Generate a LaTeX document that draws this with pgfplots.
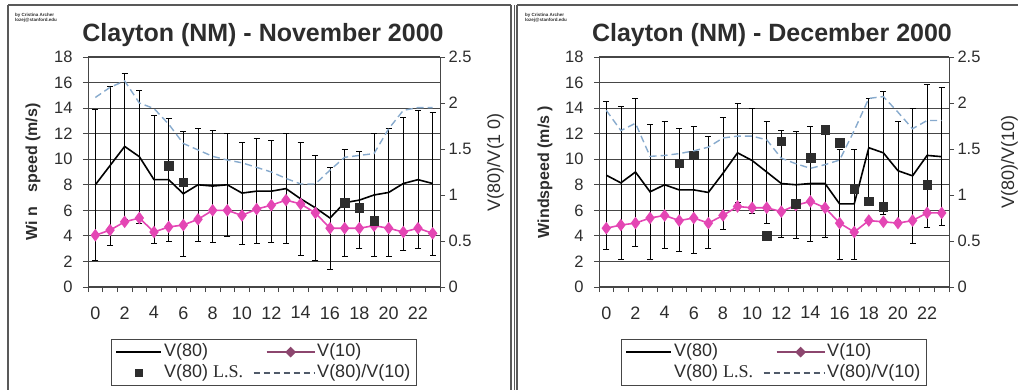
\documentclass[border=0pt]{standalone}
\usepackage{pgfplots}
\pgfplotsset{compat=1.18}
\usepackage{pgfplotstable}
\usepackage{fontspec}
\setmainfont{Liberation Sans}
\newfontfamily\lsfont{Liberation Serif}
\definecolor{pinkc}{RGB}{228,70,180}
\definecolor{v10leg}{RGB}{140,70,110}
\definecolor{lsc}{RGB}{45,45,45}
\definecolor{ratioc}{RGB}{135,170,205}
\definecolor{ratioleg}{RGB}{80,90,105}
\definecolor{gridc}{RGB}{70,70,70}
\definecolor{txtc}{RGB}{45,45,45}

\pgfplotstableread{
h v80 err v10 ratio
0 8.0 5.9 4.05 2.06
1 9.5 6.2 4.45 2.17
2 11.0 5.7 5.1 2.24
3 10.2 5.2 5.4 2.0
4 8.4 5.0 4.3 1.94
5 8.4 4.8 4.7 1.77
6 7.3 4.9 4.85 1.56
7 8.0 4.4 5.3 1.49
8 7.9 4.4 6.0 1.42
9 8.0 4.0 6.0 1.38
10 7.35 4.0 5.6 1.35
11 7.5 4.1 6.1 1.3
12 7.5 4.0 6.4 1.25
13 7.7 4.3 6.8 1.18
14 6.9 4.4 6.5 1.12
15 6.2 4.1 5.8 1.12
16 5.4 4.0 4.6 1.27
17 6.6 4.2 4.6 1.41
18 6.8 3.8 4.6 1.43
19 7.2 4.8 4.8 1.45
20 7.4 5.0 4.6 1.72
21 8.1 5.2 4.3 1.92
22 8.4 5.4 4.6 1.95
23 8.1 5.6 4.2 1.95
}\nov

\pgfplotstableread{
h v80 err v10 ratio
0 8.75 5.8 4.6 1.92
1 8.15 6.0 4.85 1.7
2 9.0 5.8 5.0 1.78
3 7.45 5.3 5.4 1.42
4 8.0 5.0 5.6 1.43
5 7.6 4.8 5.2 1.45
6 7.6 5.0 5.4 1.48
7 7.4 4.4 5.0 1.52
8 8.9 4.4 5.6 1.62
9 10.5 3.9 6.3 1.64
10 9.9 4.1 6.2 1.64
11 9.0 4.0 6.2 1.6
12 8.1 4.2 5.9 1.4
13 8.0 4.2 6.4 1.34
14 8.1 4.5 6.7 1.29
15 8.1 4.2 6.2 1.33
16 6.5 4.3 5.0 1.38
17 6.5 4.3 4.3 1.7
18 10.9 3.9 5.2 2.05
19 10.5 4.8 5.1 2.07
20 9.1 3.9 5.0 1.9
21 8.7 5.3 5.2 1.72
22 10.3 5.6 5.8 1.81
23 10.2 5.4 5.8 1.81
}\dec

\pgfplotsset{
  common/.style={
    scale only axis, height=230pt, xmin=-0.5, xmax=23.5,
    /pgf/number format/assume math mode=true,
    axis line style={gridc, line width=1pt},
    tick style={gridc, line width=0.8pt},
    major tick length=5pt,
  },
  leftax/.style={
    common,
    ymin=0, ymax=18, ytick={0,2,...,18},
    xtick={-0.5,0.5,1.5,2.5,3.5,4.5,5.5,6.5,7.5,8.5,9.5,10.5,11.5,12.5,13.5,14.5,15.5,16.5,17.5,18.5,19.5,20.5,21.5,22.5,23.5},
    xticklabels={0,,2,,4,,6,,8,,10,,12,,14,,16,,18,,20,,22,,},
    xticklabel style={xshift=7.3pt, yshift=-11pt, font=\fontsize{18}{20}\selectfont, text=txtc},
    yticklabel style={font=\fontsize{16.5}{18}\selectfont, text=txtc, xshift=-7pt},
    tick align=outside, xtick pos=bottom, ytick pos=left,
    ymajorgrids, grid style={gridc, line width=1.1pt},
    legend columns=2, legend cell align=left,
    legend style={at={(0.5,-0.226)}, anchor=north, draw=gridc, line width=1.2pt,
      font=\fontsize{18}{20}\selectfont, text=txtc, inner xsep=4pt, inner ysep=2pt,
      /tikz/every even column/.append style={column sep=8pt},
      nodes={inner sep=2pt, text height=13pt, text depth=4pt}},
  },
  rightax/.style={
    common,
    axis x line=none, axis y line*=right,
    ymin=0, ymax=2.5, ytick={0,0.5,...,2.5},
    tick align=outside,
    yticklabel style={font=\fontsize{16.5}{18}\selectfont, text=txtc},
  },
}

\begin{document}
\begin{tikzpicture}[x=1pt,y=1pt]
\useasboundingbox (0,0) rectangle (1018,389);
% frames
\draw[gray!70!black, line width=1.2pt] (8,384) -- (511,384);
\draw[gray!70!black, line width=1.2pt] (8,384) -- (8,-5);
\draw[gray!70!black, line width=1.2pt] (511,384) -- (511,-5);
\draw[gray!70!black, line width=1.2pt] (517,384) -- (1030,384);
\draw[gray!70!black, line width=1.2pt] (517,384) -- (517,-5);
\draw[gray!70!black, line width=0.8pt] (514,384) -- (514,-5);

% ===== November =====
\node[anchor=north west, font=\fontsize{4.5}{5.5}\selectfont\bfseries, text=txtc, align=left, inner sep=0pt] at (15,376) {by Cristina Archer\\lozej@stanford.edu};
\node[anchor=base, font=\fontsize{25}{28}\selectfont\bfseries, text=txtc] at (263,347) {Clayton (NM) - November 2000};
\node[anchor=base, rotate=90, font=\fontsize{16}{18}\selectfont\bfseries, text=txtc] at (37,217) {Wi n\hspace{0.9em}speed (m/s)};
\node[anchor=base, rotate=90, font=\fontsize{18}{20}\selectfont, text=txtc] at (500,227) {V(80)/V(1 0)};

\begin{axis}[leftax, width=352pt, at={(88pt,102pt)}, anchor=south west]
\addplot[black, line width=1.6pt, mark=none, forget plot,
  error bars/.cd, y dir=both, y explicit,
  error bar style={black, line width=0.6pt, solid},
  error mark options={black, rotate=90, mark size=3pt, line width=0.6pt}]
  table[x=h, y=v80, y error=err] {\nov};
\addplot[pinkc, line width=1.6pt, mark=diamond*, mark size=5pt, mark options={fill=pinkc, draw=pinkc}, forget plot]
  table[x=h, y=v10] {\nov};
\addplot[only marks, mark=square*, mark size=4.3pt, color=lsc, forget plot]
  coordinates {(5,9.5) (6,8.2) (17,6.6) (18,6.2) (19,5.2)};
\addlegendimage{legend image code/.code={\draw[black,line width=1.3pt] (0pt,0pt) -- (45pt,0pt);}}
\addlegendentry{V(80)}
\addlegendimage{legend image code/.code={\path[draw=none] (0pt,0pt) -- (61pt,0pt); \draw[v10leg,line width=1.2pt] (13pt,0pt) -- (61pt,0pt); \fill[v10leg] (37pt,4.5pt) -- (41.5pt,0pt) -- (37pt,-4.5pt) -- (32.5pt,0pt) -- cycle;}}
\addlegendentry{V(10)}
\addlegendimage{legend image code/.code={\path[draw=none] (0pt,0pt) -- (45pt,0pt); \fill[lsc] (19pt,-3.5pt) rectangle (26pt,3.5pt);}}
\addlegendentry{V(80) {\lsfont L.S.}}
\addlegendimage{legend image code/.code={\draw[ratioleg,line width=1.2pt,dash pattern=on 6pt off 4pt] (0pt,0pt) -- (61pt,0pt);}}
\addlegendentry{V(80)/V(10)}
\end{axis}
\begin{axis}[rightax, width=352pt, at={(88pt,102pt)}, anchor=south west]
\addplot[ratioc, line width=1.4pt, dash pattern=on 7pt off 4pt, mark=none] table[x=h, y=ratio] {\nov};
\end{axis}

% ===== December =====
\node[anchor=north west, font=\fontsize{4.5}{5.5}\selectfont\bfseries, text=txtc, align=left, inner sep=0pt] at (525,376) {by Cristina Archer\\lozej@stanford.edu};
\node[anchor=base, font=\fontsize{25}{28}\selectfont\bfseries, text=txtc] at (772,347) {Clayton (NM) - December 2000};
\node[anchor=base, rotate=90, font=\fontsize{16}{18}\selectfont\bfseries, text=txtc] at (549,217) {Windspeed (m/s )};
\node[anchor=base, rotate=90, font=\fontsize{18}{20}\selectfont, text=txtc] at (1014,227) {V(80)/V(10)};

\begin{axis}[leftax, width=350pt, at={(599pt,102pt)}, anchor=south west]
\addplot[black, line width=1.6pt, mark=none, forget plot,
  error bars/.cd, y dir=both, y explicit,
  error bar style={black, line width=0.6pt, solid},
  error mark options={black, rotate=90, mark size=3pt, line width=0.6pt}]
  table[x=h, y=v80, y error=err] {\dec};
\addplot[pinkc, line width=1.6pt, mark=diamond*, mark size=5pt, mark options={fill=pinkc, draw=pinkc}, forget plot]
  table[x=h, y=v10] {\dec};
\addplot[only marks, mark=square*, mark size=4.3pt, color=lsc, forget plot]
  coordinates {(5,9.7) (6,10.3) (11,4.0) (12,11.4) (13,6.5) (14,10.1) (15,12.3) (16,11.3) (17,7.7) (18,6.7) (19,6.3) (22,8.0)};
\addlegendimage{legend image code/.code={\draw[black,line width=1.3pt] (0pt,0pt) -- (45pt,0pt);}}
\addlegendentry{V(80)}
\addlegendimage{legend image code/.code={\path[draw=none] (0pt,0pt) -- (61pt,0pt); \draw[v10leg,line width=1.2pt] (13pt,0pt) -- (61pt,0pt); \fill[v10leg] (37pt,4.5pt) -- (41.5pt,0pt) -- (37pt,-4.5pt) -- (32.5pt,0pt) -- cycle;}}
\addlegendentry{V(10)}
\addlegendimage{legend image code/.code={\path[draw=none] (0pt,0pt) -- (45pt,0pt);}}
\addlegendentry{V(80) {\lsfont L.S.}}
\addlegendimage{legend image code/.code={\draw[ratioleg,line width=1.2pt,dash pattern=on 6pt off 4pt] (0pt,0pt) -- (61pt,0pt);}}
\addlegendentry{V(80)/V(10)}
\end{axis}
\begin{axis}[rightax, width=350pt, at={(599pt,102pt)}, anchor=south west]
\addplot[ratioc, line width=1.4pt, dash pattern=on 7pt off 4pt, mark=none] table[x=h, y=ratio] {\dec};
\end{axis}
\end{tikzpicture}
\end{document}
